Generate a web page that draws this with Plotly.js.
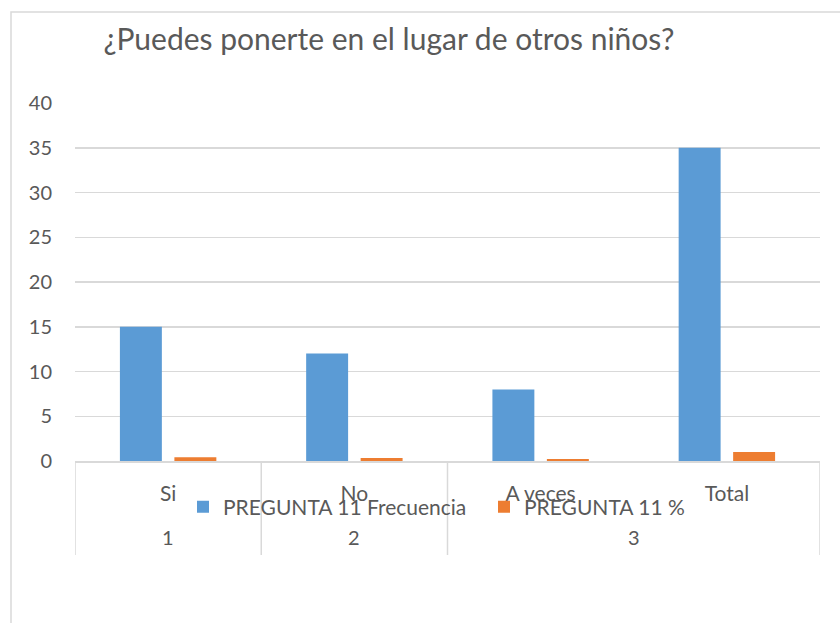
<!DOCTYPE html>
<html>
<head>
<meta charset="utf-8">
<script src="https://cdn.plot.ly/plotly-3.0.1.min.js"></script>
<style>html,body{margin:0;padding:0;background:#fff;}#chart{width:840px;height:623px;}</style>
</head>
<body>
<div id="chart"></div>
<script>
var categories = ["Si", "No", "A veces", "Total"];
var groups = ["1", "2", "3", "3"];
var frecuencia = [15, 12, 8, 35];
var porcentaje = [0.43, 0.34, 0.23, 1.0];
var seriesNames = ["PREGUNTA 11 Frecuencia", "PREGUNTA 11 %"];
var titleText = "¿Puedes ponerte en el lugar de otros niños?";

var FONT = "Lato, 'Liberation Sans', sans-serif";
var GREY = "#595959";
var LINE = "#d9d9d9";

var W = 840, H = 623, L = 75, R = 20, T = 103, B = 162;
var plotW = W - L - R, plotH = H - T - B;

// group boundaries and centers
var uniq = [], starts = {}, ends = {};
groups.forEach(function (g, i) {
  if (uniq.indexOf(g) < 0) { uniq.push(g); starts[g] = i; }
  ends[g] = i;
});
var annotations = uniq.map(function (g) {
  return {
    x: (starts[g] + ends[g]) / 2, xref: "x",
    y: -(537 - 461) / plotH, yref: "paper",
    text: g, showarrow: false, yanchor: "middle",
    font: {family: FONT, size: 20, color: GREY}
  };
});
var bounds = [-0.5];
uniq.forEach(function (g) { bounds.push(ends[g] + 0.5); });
var shapes = bounds.map(function (b) {
  return {type: "line", xref: "x", yref: "paper", x0: b, x1: b, y0: 0, y1: -(555 - 461) / plotH,
          line: {color: LINE, width: 1.5}};
});
// outer chart frame
shapes.push({type: "rect", xref: "paper", yref: "paper",
  x0: (11 - L) / plotW, x1: (W + 20 - L) / plotW,
  y0: -(H + 20 - T - plotH) / plotH, y1: (T - 12) / plotH + 1,
  line: {color: LINE, width: 1.5}, fillcolor: "rgba(0,0,0,0)", layer: "below"});

var data = [
  {type: "bar", x: categories, y: frecuencia, name: seriesNames[0], marker: {color: "#5b9bd5"}},
  {type: "bar", x: categories, y: porcentaje, name: seriesNames[1], marker: {color: "#ed7d31"}}
];

var layout = {
  width: W, height: H,
  margin: {l: L, r: R, t: T, b: B},
  paper_bgcolor: "#fff", plot_bgcolor: "#fff",
  font: {family: FONT, color: GREY},
  title: {text: titleText, x: 389 / W, xanchor: "center", xref: "container",
          y: 1 - 39 / H, yanchor: "middle", yref: "container",
          font: {family: FONT, size: 30, color: GREY}},
  barmode: "group", bargap: 0.415, bargroupgap: 0.23,
  xaxis: {type: "category", range: [-0.5, 3.5], showline: true, linecolor: LINE, linewidth: 1.5,
          showgrid: false, ticks: "", ticklabelstandoff: 13,
          tickfont: {family: FONT, size: 21, color: GREY}, fixedrange: true},
  yaxis: {range: [0, 40], dtick: 5, tick0: 0, showgrid: true, gridcolor: LINE, gridwidth: 1.5,
          zeroline: false, showline: false, ticks: "", ticklabelstandoff: 22,
          tickfont: {family: FONT, size: 20, color: GREY}, fixedrange: true},
  showlegend: true,
  legend: {orientation: "h", x: (183 - L) / plotW, xanchor: "left", y: -(507 - 461) / plotH, yanchor: "middle",
           bgcolor: "rgba(0,0,0,0)", font: {family: FONT, size: 21, color: GREY},
           itemwidth: 30, tracegroupgap: 0, entrywidth: 256, entrywidthmode: "pixels"},
  annotations: annotations,
  shapes: shapes
};

Plotly.newPlot("chart", data, layout, {displayModeBar: false, staticPlot: true});
</script>
</body>
</html>
